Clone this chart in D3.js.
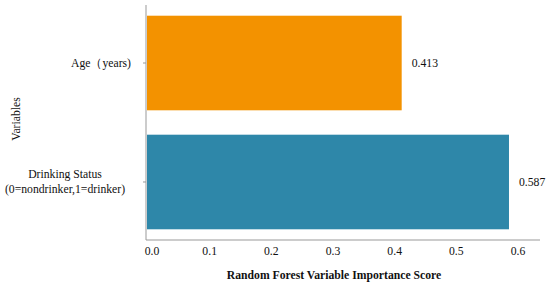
<!DOCTYPE html>
<html><head><meta charset="utf-8">
<script src="https://cdn.jsdelivr.net/npm/d3@7"></script>
<style>body{margin:0;background:#fff}svg{display:block}</style>
</head><body><svg id="c" width="550" height="288" font-family="Liberation Serif"></svg>
<script>
const categories = ["Age（years)", "Drinking Status|(0=nondrinker,1=drinker)"];
const values = [0.413, 0.587];
const colors = ["#F39200", "#2E87A9"];
const xTicks = [0, 0.1, 0.2, 0.3, 0.4, 0.5, 0.6];
const xTitle = "Random Forest Variable Importance Score";
const yTitle = "Variables";

const FS = 11.7;
const svg = d3.select("#c");
const x0 = 146, x1 = 540, yTop = 5, yBot = 240;
const x = d3.scaleLinear().domain([0, 0.6]).range([147, 517]);
const y = d3.scaleBand().domain(categories).range([yTop, yBot]).paddingInner(0.205).paddingOuter(0.09);

svg.selectAll("rect.bar").data(categories).enter().append("rect")
  .attr("x", x(0)).attr("y", d => y(d))
  .attr("width", (d,i) => x(values[i]) - x(0))
  .attr("height", y.bandwidth())
  .attr("fill", (d,i) => colors[i]);

svg.selectAll("text.val").data(categories).enter().append("text")
  .attr("font-family", "Liberation Serif")
  .attr("x", (d,i) => x(values[i]) + 10)
  .attr("y", d => y(d) + y.bandwidth()/2)
  .attr("dy", "0.35em").attr("font-size", FS).attr("fill", "#111")
  .text((d,i) => values[i].toFixed(3));

svg.append("line").attr("x1", x0).attr("x2", x0).attr("y1", yTop).attr("y2", yBot).attr("stroke", "#999");
svg.append("line").attr("x1", x0).attr("x2", x1).attr("y1", yBot).attr("y2", yBot).attr("stroke", "#999");

svg.selectAll("line.yt").data(categories).enter().append("line")
  .attr("x1", x0 - 3).attr("x2", x0)
  .attr("y1", d => y(d) + y.bandwidth()/2).attr("y2", d => y(d) + y.bandwidth()/2)
  .attr("stroke", "#999");

categories.forEach((c, i) => {
  const lines = c.split("|");
  const cy = y(c) + y.bandwidth()/2;
  const t = svg.append("text").attr("font-family", "Liberation Serif").attr("font-size", FS).attr("fill", "#111");
  if (lines.length === 1) {
    t.attr("x", 131).attr("y", cy).attr("dy", "0.35em").attr("text-anchor", "end").text(lines[0]);
  } else {
    lines.forEach((l, j) => {
      t.append("tspan").attr("x", 65).attr("y", cy + (j - (lines.length-1)/2) * 15 - 1)
        .attr("dy", "0.35em").attr("text-anchor", "middle").text(l);
    });
  }
});

svg.selectAll("text.xt").data(xTicks).enter().append("text")
  .attr("font-family", "Liberation Serif")
  .attr("x", d => x(d) + (d === 0 ? 5 : 1))
  .attr("y", 251).attr("dy", "0.35em").attr("text-anchor", "middle")
  .attr("font-size", FS).attr("fill", "#111")
  .text(d => d.toFixed(1));

svg.append("text").attr("font-family", "Liberation Serif").attr("x", 334).attr("y", 275).attr("dy", "0.35em").attr("text-anchor", "middle")
  .attr("font-size", FS).attr("font-weight", "bold").attr("fill", "#111").text(xTitle);
svg.append("text").attr("font-family", "Liberation Serif").attr("transform", "translate(16,119) rotate(-90)").attr("dy", "0.35em")
  .attr("text-anchor", "middle").attr("font-size", FS).attr("fill", "#111").text(yTitle);
</script></body></html>
